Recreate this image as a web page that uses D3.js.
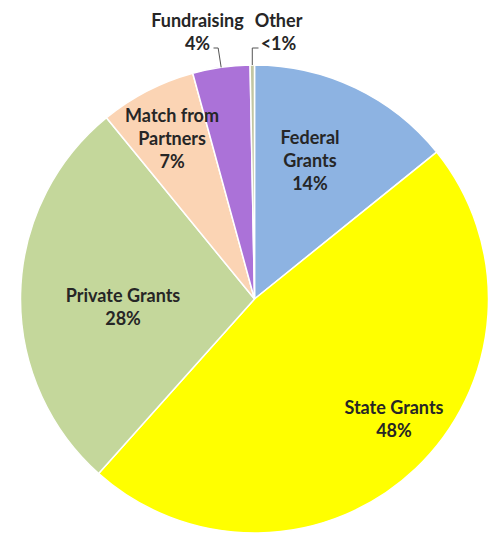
<!DOCTYPE html>
<html lang="en">
  <head>
    <meta charset="UTF-8" />
    <title>funding pie</title>
    <script src="https://d3js.org/d3.v7.min.js"></script>
    <style>
      body {
        margin: 0;
        background: #fff;
      }
      text {
        font-family: Lato, "Open Sans", sans-serif;
        font-weight: 700;
        fill: #262626;
      }
    </style>
  </head>
  <body>
    <div id="chart"></div>
    <script>
      // data (percent of total)
      var categories = [
        "Federal Grants",
        "State Grants",
        "Private Grants",
        "Match from Partners",
        "Fundraising",
        "Other"
      ];
      var values = [14.2, 47.4, 27.5, 6.65, 3.95, 0.3];
      var pctLabels = ["14%", "48%", "28%", "7%", "4%", "<1%"];
      var colors = ["#8db3e2", "#ffff00", "#c4d79b", "#fbd4b4", "#ab72d8", "#c2c6a2"];

      // how each label text is broken in lines
      var labelLines = [
        ["Federal", "Grants"],
        ["State Grants"],
        ["Private Grants"],
        ["Match from", "Partners"],
        ["Fundraising"],
        ["Other"]
      ];

      var w = 495;
      var h = 535;
      var cx = 254.5;
      var cy = 299;
      var r = 234;
      var lineH = 23;
      var fs = 18;

      var svg = d3
        .select("#chart")
        .append("svg")
        .attr("width", w)
        .attr("height", h);

      var g = svg.append("g").attr("transform", "translate(" + cx + "," + cy + ")");

      var pie = d3.pie().sort(null).value((d) => d);
      var arcs = pie(values);

      var arc = d3.arc().innerRadius(0).outerRadius(r);

      g.selectAll("path.slice")
        .data(arcs)
        .enter()
        .append("path")
        .attr("class", "slice")
        .attr("d", arc)
        .attr("fill", (d, i) => colors[i])
        .attr("stroke", "#fff")
        .attr("stroke-width", 1.5);

      // inside labels: angle nudge (deg) from mid angle and radius factor ("best fit" look)
      var inside = {
        0: { da: -3.7, k: 0.637 },
        1: { da: -5.5, k: 0.789 },
        2: { da: -5, k: 0.563 },
        3: { da: 0, k: 0.769 }
      };

      arcs.forEach(function (d, i) {
        if (!inside[i]) return;
        var a = (d.startAngle + d.endAngle) / 2 + (inside[i].da * Math.PI) / 180;
        var rr = inside[i].k * r;
        var x = Math.sin(a) * rr;
        var y = -Math.cos(a) * rr;
        var lines = labelLines[i].concat([pctLabels[i]]);
        var t = g
          .append("text")
          .attr("text-anchor", "middle")
          .attr("font-size", fs);
        lines.forEach(function (s, j) {
          t.append("tspan")
            .attr("x", x)
            .attr("y", y + (j - (lines.length - 1) / 2) * lineH + 6)
            .text(s);
        });
      });

      // outside labels with leader lines (Fundraising, Other)
      var outside = [
        { i: 4, tx: -57, end: 16, bend: -3 },
        { i: 5, tx: 24, end: -20, bend: 0 }
      ];
      var nameY = -272;
      var pctY = -249;
      var elbowY = -251;

      outside.forEach(function (o) {
        var d = arcs[o.i];
        var a = (d.startAngle + d.endAngle) / 2;
        var ex = Math.sin(a) * r;
        var ey = -Math.cos(a) * r;
        var lab = g
          .append("text")
          .attr("text-anchor", "middle")
          .attr("font-size", fs);
        lab.append("tspan").attr("x", o.tx).attr("y", nameY).text(labelLines[o.i][0]);
        lab.append("tspan").attr("x", o.tx).attr("y", pctY).text(pctLabels[o.i]);
        g.append("path")
          .attr(
            "d",
            "M" + ex + "," + ey +
              "L" + (ex + o.bend) + "," + elbowY +
              "L" + (o.tx + o.end) + "," + elbowY
          )
          .attr("fill", "none")
          .attr("stroke", "#555")
          .attr("stroke-width", 1);
      });
    </script>
  </body>
</html>
